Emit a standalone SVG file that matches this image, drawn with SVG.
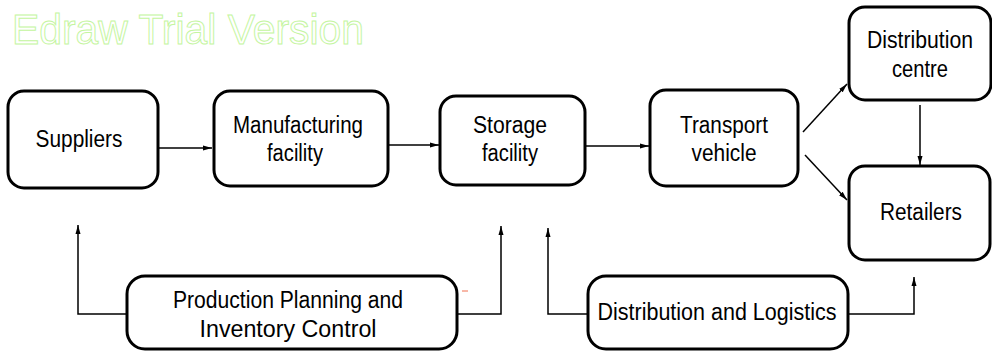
<svg xmlns="http://www.w3.org/2000/svg" width="992" height="353" viewBox="0 0 992 353">
<style>
.box{fill:#fff;stroke:#000;stroke-width:3}
.lbl{font-family:"Liberation Sans",Arial,sans-serif;font-size:23px;fill:#000;text-anchor:middle}
.con{fill:none;stroke:#000;stroke-width:1.5}
.wm{font-family:"Liberation Sans",Arial,sans-serif;font-size:42px;fill:none;stroke:#c4f5a0;stroke-width:1}
</style>
<defs>
<marker id="ah" markerWidth="10" markerHeight="8" refX="9" refY="4" orient="auto" markerUnits="userSpaceOnUse">
<path d="M0,1.5 L9,4 L0,6.5 Z" fill="#000"/>
</marker>
</defs>
<rect width="992" height="353" fill="#fff"/>
<text class="wm" x="12" y="44" textLength="352" lengthAdjust="spacingAndGlyphs">Edraw Trial Version</text>

<g id="connectors">
<line class="con" x1="158" y1="148" x2="212" y2="148" marker-end="url(#ah)"/>
<line class="con" x1="388" y1="145" x2="439" y2="145" marker-end="url(#ah)"/>
<line class="con" x1="585" y1="146" x2="649" y2="146" marker-end="url(#ah)"/>
<line class="con" x1="803" y1="132" x2="847" y2="84" marker-end="url(#ah)"/>
<line class="con" x1="805" y1="155" x2="847" y2="200" marker-end="url(#ah)"/>
<line class="con" x1="920" y1="105" x2="920" y2="165" marker-end="url(#ah)"/>
<polyline class="con" points="127,314 78,314 78,225" marker-end="url(#ah)"/>
<polyline class="con" points="457,314 501,314 501,226" marker-end="url(#ah)"/>
<polyline class="con" points="588,314 548,314 548,228" marker-end="url(#ah)"/>
<polyline class="con" points="848,314 914,314 914,277" marker-end="url(#ah)"/>
</g>

<line x1="462" y1="291" x2="468" y2="291" stroke="#f07050" stroke-width="1"/>

<g id="suppliers">
<rect class="box" x="8" y="91" width="150" height="97" rx="16"/>
<text class="lbl" x="79" y="147" textLength="87" lengthAdjust="spacingAndGlyphs">Suppliers</text>
</g>
<g id="manufacturing">
<rect class="box" x="214" y="91" width="174" height="95" rx="16"/>
<text class="lbl" x="298" y="133" textLength="130" lengthAdjust="spacingAndGlyphs">Manufacturing</text>
<text class="lbl" x="295" y="161" textLength="56" lengthAdjust="spacingAndGlyphs">facility</text>
</g>
<g id="storage">
<rect class="box" x="440" y="96" width="145" height="89" rx="16"/>
<text class="lbl" x="510" y="133" textLength="74" lengthAdjust="spacingAndGlyphs">Storage</text>
<text class="lbl" x="510" y="161" textLength="56" lengthAdjust="spacingAndGlyphs">facility</text>
</g>
<g id="transport">
<rect class="box" x="650" y="90" width="148" height="96" rx="16"/>
<text class="lbl" x="724" y="133" textLength="88" lengthAdjust="spacingAndGlyphs">Transport</text>
<text class="lbl" x="724" y="161" textLength="65" lengthAdjust="spacingAndGlyphs">vehicle</text>
</g>
<g id="distribution-centre">
<rect class="box" x="849" y="7" width="142" height="93" rx="16"/>
<text class="lbl" x="920" y="48" textLength="106" lengthAdjust="spacingAndGlyphs">Distribution</text>
<text class="lbl" x="920" y="77" textLength="56" lengthAdjust="spacingAndGlyphs">centre</text>
</g>
<g id="retailers">
<rect class="box" x="849" y="166" width="141" height="94" rx="16"/>
<text class="lbl" x="921" y="220" textLength="82" lengthAdjust="spacingAndGlyphs">Retailers</text>
</g>
<g id="production-planning">
<rect class="box" x="127" y="276" width="330" height="73" rx="18"/>
<text class="lbl" x="288" y="308" textLength="230" lengthAdjust="spacingAndGlyphs">Production Planning and</text>
<text class="lbl" x="288" y="337" textLength="177" lengthAdjust="spacingAndGlyphs">Inventory Control</text>
</g>
<g id="distribution-logistics">
<rect class="box" x="588" y="276" width="260" height="73" rx="18"/>
<text class="lbl" x="717" y="320" textLength="239" lengthAdjust="spacingAndGlyphs">Distribution and Logistics</text>
</g>
</svg>
